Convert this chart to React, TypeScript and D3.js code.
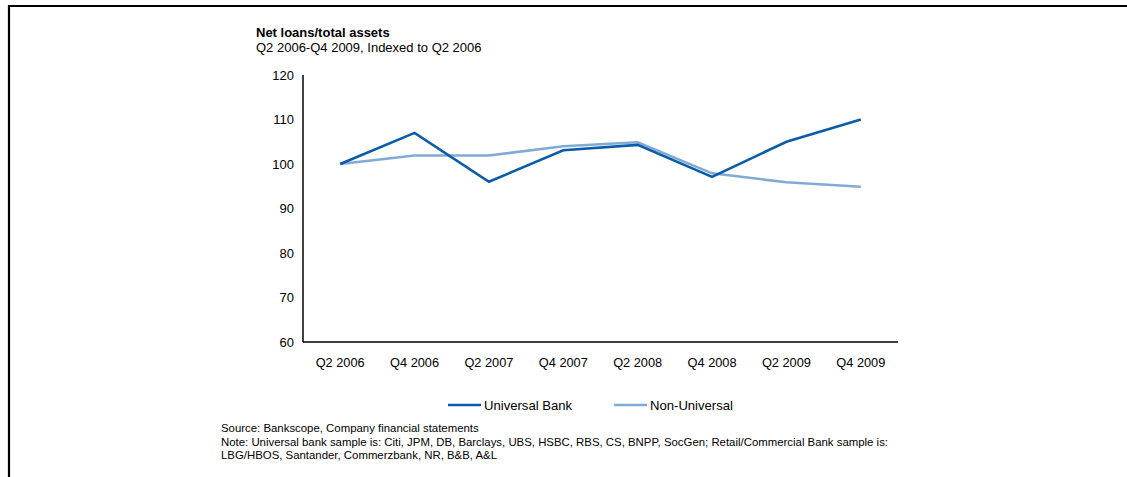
import React from "react";
import * as d3 from "d3";

const categories = ["Q2 2006", "Q4 2006", "Q2 2007", "Q4 2007", "Q2 2008", "Q4 2008", "Q2 2009", "Q4 2009"];
const universalBank = [100, 107, 96, 103.1, 104.3, 97.1, 105, 110];
const nonUniversal = [100, 101.9, 101.9, 104, 104.9, 97.9, 95.9, 94.9];
const yTicks = [60, 70, 80, 90, 100, 110, 120];

const seriesNames = ["Universal Bank", "Non-Universal"];
const seriesColors = ["#0A5CA8", "#82AAD6"];

const W = 1127;
const H = 477;
const FONT = "'Liberation Sans', Arial, sans-serif";

export default function App() {
  const x = d3.scalePoint<string>().domain(categories).range([303, 898]).padding(0.5);
  const y = d3.scaleLinear().domain([60, 120]).range([342, 75]);
  const line = d3
    .line<number>()
    .x((_, i) => x(categories[i]) as number)
    .y((d) => y(d));
  const series = [universalBank, nonUniversal];
  const legendX = [448, 614];

  return (
    <svg width={W} height={H} style={{ position: "absolute", left: 0, top: 0 }} fontFamily={FONT}>
      <rect x={0} y={0} width={W} height={H} fill="#fff" />
      {/* frame */}
      <line x1={8} x2={W} y1={6} y2={6} stroke="#000" strokeWidth={2} />
      <line x1={9} x2={9} y1={5} y2={H} stroke="#000" strokeWidth={2.2} />

      <text x={256} y={36.5} fontSize={13} fontWeight="bold">Net loans/total assets</text>
      <text x={256} y={51.5} fontSize={13}>Q2 2006-Q4 2009, Indexed to Q2 2006</text>

      {yTicks.map((t) => (
        <text key={t} x={294} y={y(t)} dy="0.35em" textAnchor="end" fontSize={13}>{t}</text>
      ))}
      {categories.map((c) => (
        <text key={c} x={x(c) as number} y={363} dy="0.35em" textAnchor="middle" fontSize={12.8}>{c}</text>
      ))}

      {series.slice().reverse().map((s, ri) => {
        const i = series.length - 1 - ri;
        return (
          <path key={i} d={line(s) as string} fill="none" stroke={seriesColors[i]} strokeWidth={2.6} strokeLinejoin="miter" />
        );
      })}

      <line x1={303} x2={303} y1={y(120)} y2={y(60)} stroke="#000" strokeWidth={1.5} />
      <line x1={303} x2={898} y1={y(60)} y2={y(60)} stroke="#000" strokeWidth={1.5} />

      {seriesNames.map((n, i) => (
        <g key={n}>
          <line x1={legendX[i]} x2={legendX[i] + 33} y1={405} y2={405} stroke={seriesColors[i]} strokeWidth={2.6} />
          <text x={legendX[i] + 36} y={405} dy="0.35em" fontSize={13.1}>{n}</text>
        </g>
      ))}

      <text x={221} y={432} fontSize={11.4}>Source: Bankscope, Company financial statements</text>
      <text x={221} y={446} fontSize={11.4}>Note: Universal bank sample is: Citi, JPM, DB, Barclays, UBS, HSBC, RBS, CS, BNPP, SocGen; Retail/Commercial Bank sample is:</text>
      <text x={221} y={459} fontSize={11.4}>LBG/HBOS, Santander, Commerzbank, NR, B&amp;B, A&amp;L</text>
    </svg>
  );
}
